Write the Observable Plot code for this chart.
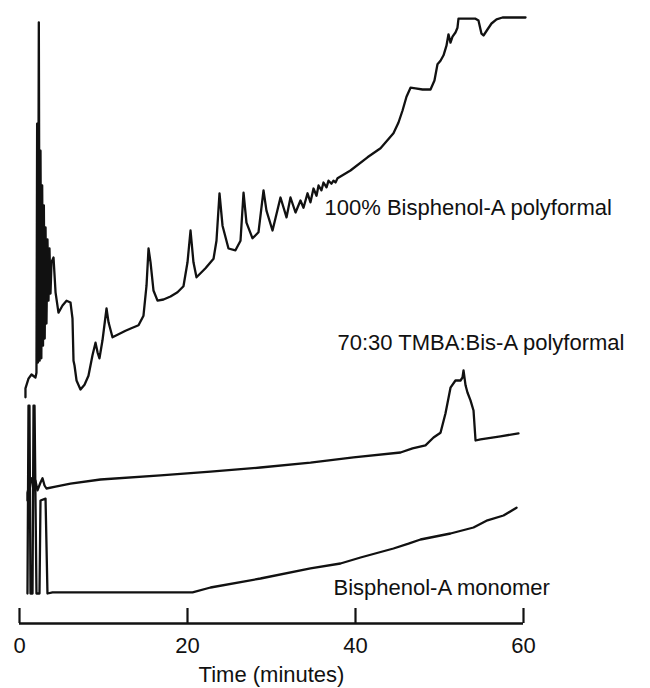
<!DOCTYPE html>
<html>
<head>
<meta charset="utf-8">
<script src="https://cdn.jsdelivr.net/npm/d3@7"></script>
<script src="https://cdn.jsdelivr.net/npm/@observablehq/plot@0.6"></script>
<style>
  html, body { margin: 0; padding: 0; background: #fff; }
  #chart { width: 650px; height: 688px; }
</style>
</head>
<body>
<div id="chart"></div>
<script>
// ---- Data (time in minutes, detector response in arbitrary units) ----
const polyformalTime = [0.71,0.71,1.07,1.43,1.90,2.02,2.10,2.20,2.30,2.40,2.50,2.60,2.70,2.80,2.90,3.00,3.10,3.21,3.33,3.45,3.57,3.69,3.81,4.05,4.29,4.64,5.12,5.60,6.07,6.31,6.43,6.55,6.79,7.26,7.74,8.21,8.69,9.05,9.29,9.52,9.88,10.36,10.60,11.07,11.79,12.62,13.45,14.17,14.76,15.12,15.36,15.60,15.95,16.43,17.14,17.98,18.81,19.52,20.00,20.36,20.71,21.07,22.14,23.10,23.45,23.81,24.17,24.88,25.71,26.31,26.67,27.02,27.74,28.45,29.05,29.40,30.12,31.07,31.79,32.26,32.86,33.45,33.81,34.29,34.64,35.00,35.36,35.60,35.95,36.19,36.55,36.79,37.14,37.38,37.62,37.86,39.40,41.43,42.98,44.52,45.12,45.60,46.07,46.55,47.14,47.98,48.93,49.40,49.76,50.12,50.48,50.83,51.07,51.31,51.55,51.90,52.14,52.26,54.29,54.64,55.00,55.24,55.71,56.19,56.79,57.50,60.24];
const polyformalResp = [37.7,39.2,40.8,41.5,41.0,41.8,83.3,43.5,100.2,43.8,78.8,44.2,73.0,46.3,69.7,47.5,66.0,50.0,64.0,53.8,62.5,55.0,60.2,61.0,55.2,51.8,53.0,53.8,53.5,50.8,43.8,43.0,40.5,39.0,39.8,41.3,44.7,46.8,45.2,44.2,47.2,52.5,50.2,47.7,48.2,48.8,49.3,49.7,51.3,56.3,62.5,60.2,55.5,53.8,54.0,54.5,55.2,56.2,60.2,65.5,60.2,57.7,59.2,60.8,63.8,71.7,66.3,62.5,62.2,63.8,71.8,66.8,64.2,65.2,72.2,68.8,65.5,71.0,67.7,71.0,68.5,70.5,69.3,71.7,70.2,72.5,71.3,73.0,72.2,73.5,72.7,73.8,73.3,73.8,73.5,74.2,75.5,77.7,79.2,81.7,83.5,85.5,87.8,89.3,89.2,89.0,89.0,90.5,93.2,93.8,94.7,96.3,98.2,96.8,97.8,98.5,99.3,100.8,100.8,100.5,98.3,98.0,99.0,100.0,100.7,101.0,101.0];

const tmbaTime = [0.95,0.95,1.19,1.43,1.67,1.90,2.14,2.50,2.74,2.98,3.21,4.29,6.07,9.64,16.79,22.74,28.69,34.64,39.76,45.36,46.79,48.33,49.29,50.12,50.71,51.31,51.90,52.50,52.74,52.86,53.10,53.33,53.69,54.05,54.29,54.88,57.26,59.40];
const tmbaResp = [20.5,21.8,23.2,24.2,22.2,23.8,22.2,23.5,24.2,23.0,22.5,22.8,23.3,24.0,24.7,25.3,26.0,26.8,27.7,28.5,29.2,29.7,31.0,31.8,35.0,39.3,40.5,40.5,41.0,42.2,39.7,38.5,37.2,35.5,30.5,30.7,31.2,31.7];

const monomerTime = [0.95,1.07,1.19,1.31,1.55,1.67,1.79,2.02,2.38,2.50,3.10,3.33,3.93,12.02,20.60,22.74,28.69,34.64,38.21,40.60,44.52,46.31,47.74,51.31,54.05,55.71,57.62,59.17];
const monomerResp = [5.0,36.3,36.3,5.0,5.0,36.3,36.3,5.0,5.0,20.5,20.8,5.0,5.2,5.2,5.2,6.0,7.5,9.2,10.0,11.0,12.5,13.3,14.0,15.0,16.0,17.2,18.0,19.3];

const seriesNames = ["100% Bisphenol-A polyformal", "70:30 TMBA:Bis-A polyformal", "Bisphenol-A monomer"];
const labelTime = [36.31, 37.86, 37.38];
const labelResp = [69.2, 46.7, 6.0];

const xTicks = [0, 20, 40, 60];
const xLabel = "Time (minutes)";

// ---- Build rows ----
const seriesTimes = [polyformalTime, tmbaTime, monomerTime];
const seriesResps = [polyformalResp, tmbaResp, monomerResp];
const rows = [];
seriesNames.forEach((name, k) => {
  seriesTimes[k].forEach((t, i) => rows.push({series: name, t, v: seriesResps[k][i]}));
});
const labels = seriesNames.map((name, i) => ({name, t: labelTime[i], v: labelResp[i]}));

const ink = "#111";
const tickLen = 2.5; // in response units (about 15px)

const chart = Plot.plot({
  width: 650,
  height: 688,
  marginLeft: 19,
  marginRight: 127,
  marginTop: 17,
  marginBottom: 65,
  style: {fontFamily: "'Liberation Sans', Arial, sans-serif", fontSize: "22px", background: "#fff", color: ink},
  x: {domain: [0, 60]},
  y: {domain: [0, 101], axis: null},
  marks: [
    Plot.ruleY([0], {x1: 0, x2: 60, stroke: ink, strokeWidth: 2.4}),
    Plot.ruleX(xTicks, {x: d => d, y1: 0, y2: tickLen, stroke: ink, strokeWidth: 2.2}),
    Plot.axisX({
      ticks: xTicks, tickSize: 0, tickPadding: 14, fontSize: 22,
      label: xLabel, labelAnchor: "center", labelOffset: 58, labelArrow: "none"
    }),
    Plot.line(rows, {x: "t", y: "v", z: "series", stroke: ink, strokeWidth: 2.3, strokeLinejoin: "round", strokeLinecap: "round"}),
    Plot.text(labels, {x: "t", y: "v", text: "name", textAnchor: "start", lineAnchor: "middle", fontSize: 22, fill: ink})
  ]
});
document.getElementById("chart").appendChild(chart);
</script>
</body>
</html>
